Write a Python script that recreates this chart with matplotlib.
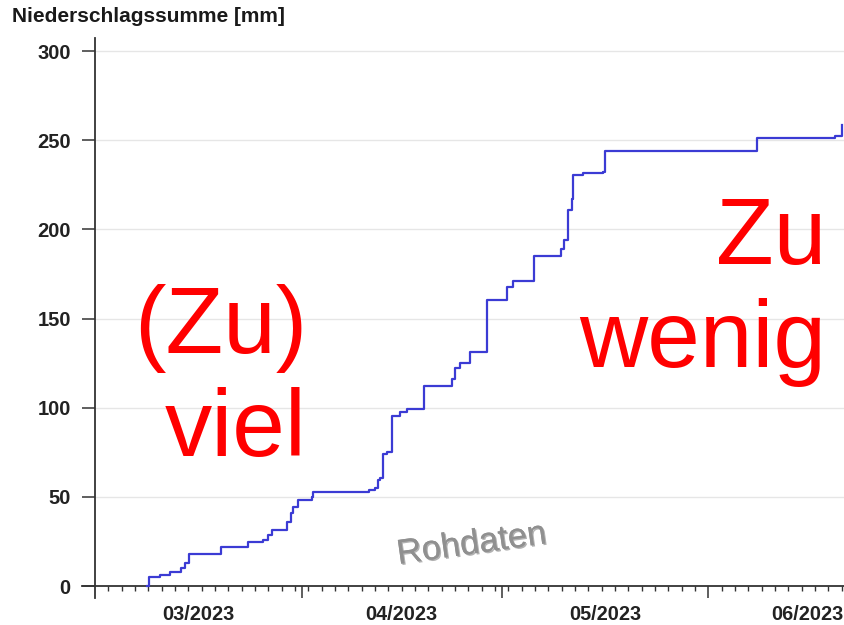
import matplotlib
matplotlib.use("Agg")
import matplotlib.pyplot as plt
import matplotlib.patheffects as pe
from matplotlib.ticker import FixedLocator, NullFormatter

plt.rcParams['font.family'] = ['Liberation Sans', 'DejaVu Sans']

# days since 2023-03-01 and cumulative precipitation [mm]
days = [7.85, 8.1, 9.75, 11.25, 12.85, 13.5, 14.15, 18.85, 23.0, 25.25, 26.0, 26.5,
        28.75, 29.35, 29.75, 30.5, 32.5, 32.75, 41.1, 42.0, 42.5, 42.75, 43.15, 43.75,
        44.6, 45.75, 46.75, 49.4, 53.5, 54.0, 54.75, 56.25, 58.75, 61.75, 62.75, 65.85,
        69.9, 70.3, 71.0, 71.5, 71.75, 73.25, 76.2, 76.5, 99.25, 111.0, 112.0]
values = [0.0, 4.9, 6.2, 7.7, 10.3, 12.7, 17.9, 22.0, 24.5, 25.8, 28.6, 31.4,
          36.0, 40.8, 44.5, 48.2, 50.1, 52.9, 54.0, 54.8, 59.4, 60.4, 74.0, 75.3,
          95.5, 97.8, 99.1, 112.2, 116.0, 122.1, 124.9, 131.4, 160.4, 167.9, 171.0, 185.1,
          189.0, 194.0, 210.9, 217.0, 230.5, 231.5, 232.0, 244.0, 251.0, 252.4, 258.5]

month_starts = [31, 61, 92]
month_mids = [15.5, 46, 76.5, 106.8]
month_labels = ["03/2023", "04/2023", "05/2023", "06/2023"]
y_ticks = [0, 50, 100, 150, 200, 250, 300]

W, H = 844, 625
fig = plt.figure(figsize=(W / 100, H / 100), dpi=100)
ax = fig.add_axes([95 / W, (H - 598) / H, (W - 95) / W, (598 - 38) / H])

ax.set_xlim(0, 112.35)
ax.set_ylim(-6.7, 307.3)

for y in y_ticks[1:]:
    ax.axhline(y, color='#e6e6e6', lw=1.0, zorder=0)

ax.step(days, values, where='post', color='#3b3bd4', lw=1.6, zorder=3)

for s in ['top', 'right']:
    ax.spines[s].set_visible(False)
ax.spines['bottom'].set_position(('data', 0))
ax.spines['bottom'].set_bounds(-1.9, 112.35)
for s in ['left', 'bottom']:
    ax.spines[s].set_color('#333333')
    ax.spines[s].set_linewidth(1.3)

ax.set_yticks(y_ticks)
ax.set_yticklabels([str(v) for v in y_ticks])
ax.tick_params(axis='y', length=9.4, width=1.1, pad=8, color='#333333',
               labelsize=14.5, labelcolor='#222222')
for lab in ax.get_yticklabels():
    lab.set_fontweight('bold')

ax.xaxis.set_major_locator(FixedLocator(month_starts))
ax.xaxis.set_major_formatter(NullFormatter())
minor = [d for d in range(2, 113, 2) if all(abs(d - m) > 0.6 for m in month_starts)]
ax.xaxis.set_minor_locator(FixedLocator(minor))
ax.tick_params(axis='x', which='major', length=8.6, width=1.1, color='#333333')
ax.tick_params(axis='x', which='minor', length=3.6, width=1.0, color='#333333')

for x, lab in zip(month_mids, month_labels):
    ax.text(x, -19.1, lab, ha='center', va='baseline', fontsize=14.3,
            fontweight='bold', color='#222222', clip_on=False)

fig.text(12 / W, 1 - 22.5 / H, "Niederschlagssumme [mm]", fontsize=15,
         fontweight='bold', color='#1a1a1a', ha='left', va='baseline')

# annotations (baseline refers to the last line)
fig.text(307 / W, 1 - 456 / H, "(Zu)\nviel", fontsize=68, color='#ff0000',
         ha='right', va='baseline', multialignment='right', linespacing=1.2)
fig.text(826 / W, 1 - 366.7 / H, "Zu\nwenig", fontsize=68, color='#ff0000',
         ha='right', va='baseline', multialignment='right', linespacing=1.2)

ax.text(56.5, 23.5, "Rohdaten", fontsize=25, color='#909090', rotation=8,
        ha='center', va='center', zorder=2,
        path_effects=[pe.withSimplePatchShadow(offset=(1, -1), shadow_rgbFace='#555555', alpha=0.45),
                      pe.Normal()])

fig.savefig("out.png", dpi=100)
